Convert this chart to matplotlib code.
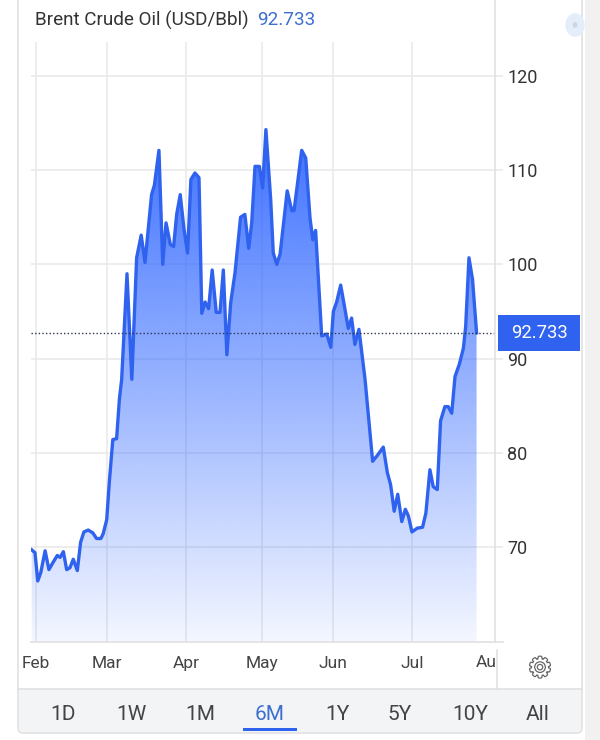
import matplotlib
matplotlib.use('Agg')
import matplotlib.pyplot as plt
import numpy as np
from matplotlib.patches import Rectangle, FancyBboxPatch, Circle
from matplotlib.lines import Line2D
from matplotlib.transforms import Bbox, TransformedBbox, blended_transform_factory
import matplotlib.patheffects as pe

plt.rcParams['font.family'] = ['Roboto', 'DejaVu Sans']

# ---------------- data (day offset from Feb 1, price USD/Bbl) ----------------
days = [-1.7, -0.4, 0.7, 1.9, 3.6, 5.1, 6.8, 8.4, 9.5, 10.8, 12.1, 13.4, 14.7, 16.3,
        17.6, 18.9, 20.6, 22.4, 23.9, 25.6, 26.5, 27.9, 28.9, 30.3, 31.8, 32.9, 33.8,
        35.9, 37.8, 39.7, 41.5, 43.0, 45.6, 46.7, 48.5, 50.0, 51.3, 53.0, 54.3, 55.5,
        56.9, 58.4, 59.8, 61.1, 62.7, 64.3, 65.4, 66.7, 68.1, 69.5, 71.1, 72.6, 73.9,
        75.3, 76.8, 78.5, 80.7, 82.4, 83.9, 85.1, 86.4, 88.1, 89.4, 90.7, 92.6, 93.6,
        95.0, 96.3, 99.1, 100.9, 101.8, 103.5, 104.8, 106.4, 108.1, 109.2, 110.3,
        112.7, 114.7, 116.3, 117.3, 118.6, 120.2, 121.9, 123.2, 124.5, 125.8, 127.4,
        129.8, 132.8, 134.6, 137.0, 138.6, 139.9, 141.3, 142.7, 144.3, 145.7, 146.9,
        148.3, 150.4, 152.5, 153.8, 155.4, 156.7, 158.3, 159.6, 161.3, 162.6, 164.0,
        165.3, 167.0, 168.6, 169.5, 170.8, 172.2, 173.8]
prices = [69.7, 69.4, 66.4, 67.3, 69.6, 67.6, 68.4, 69.1, 68.9, 69.5, 67.6, 67.8, 68.7, 67.5,
          70.5, 71.6, 71.8, 71.5, 70.9, 70.9, 71.4, 72.9, 76.8, 81.4, 81.5, 85.7, 87.8,
          99.0, 87.8, 100.7, 103.1, 100.2, 107.4, 108.4, 112.1, 100.0, 104.4, 102.1, 101.9, 105.3,
          107.4, 103.7, 101.2, 109.0, 109.7, 109.2, 94.8, 96.0, 95.3, 99.4, 94.9, 94.9, 99.4,
          90.4, 95.9, 99.1, 105.0, 105.3, 101.7, 104.4, 110.4, 110.4, 108.1, 114.3, 106.8, 101.2,
          100.0, 101.1, 107.8, 105.7, 105.7, 109.3, 112.1, 111.3, 104.9, 102.6, 103.6,
          92.4, 92.6, 91.2, 95.0, 96.0, 97.8, 95.2, 93.2, 94.3, 91.5, 93.1,
          87.8, 79.1, 79.7, 80.6, 77.9, 76.6, 73.8, 75.6, 72.7, 74.0, 73.3,
          71.6, 72.0, 72.1, 73.6, 78.2, 76.4, 76.1, 83.4, 84.9, 84.9, 84.2,
          88.1, 89.4, 91.1, 93.4, 100.7, 98.4, 92.733]

month_labels = ['Feb', 'Mar', 'Apr', 'May', 'Jun', 'Jul', 'Aug']
month_pos = [0.0, 28.0, 59.2, 89.2, 117.2, 148.3, 179.6]
y_ticks = [70, 80, 90, 100, 110, 120]
last_price = 92.733
title = 'Brent Crude Oil (USD/Bbl)'
ranges = ['1D', '1W', '1M', '6M', '1Y', '5Y', '10Y', 'All']
active_range = '6M'

# ---------------- figure ----------------
W, H = 600, 740
fig = plt.figure(figsize=(6, 7.4), dpi=100)
fig.patch.set_facecolor('white')

def fx(px):
    return px / W

def fy(py):
    return 1 - py / H

GRID = '#e8e8e8'
BORDER = '#e0e0e0'
BLUE = '#2f62ee'

# page background at right + card
fig.patches.append(Rectangle((fx(585), 0), 1 - fx(585), 1, transform=fig.transFigure,
                             facecolor='#f1f1f1', edgecolor='none', zorder=-10))
fig.patches.append(FancyBboxPatch((fx(18), fy(733)), fx(582) - fx(18), fy(-30) - fy(733),
                                  boxstyle='round,pad=0,rounding_size=0.008',
                                  transform=fig.transFigure, facecolor='white',
                                  edgecolor=BORDER, lw=1.2, zorder=-9))
# range bar background
fig.patches.append(FancyBboxPatch((fx(19), fy(732)), fx(581) - fx(19), fy(689) - fy(732),
                                  boxstyle='round,pad=0,rounding_size=0.006',
                                  transform=fig.transFigure, facecolor='#f3f4f6',
                                  edgecolor='none', zorder=-8))
fig.lines.append(Line2D([fx(18), fx(582)], [fy(689), fy(689)], transform=fig.transFigure,
                        color=BORDER, lw=1.2, zorder=-7))

# ---------------- axes ----------------
ax = fig.add_axes([fx(31), fy(641.7), fx(495) - fx(31), (641.7 - 42) / H])
ax.set_zorder(1)
ax.set_facecolor('none')
xmin, xmax = -1.97, 181.07
ymin, ymax = 59.95, 123.6
ax.set_xlim(xmin, xmax)
ax.set_ylim(ymin, ymax)
for s in ax.spines.values():
    s.set_visible(False)

ax.set_xticks(month_pos[:6], month_labels[:6])
ax.yaxis.tick_right()
ax.set_yticks(y_ticks, [str(v) for v in y_ticks])
ax.grid(True, color=GRID, lw=1.1)
ax.set_axisbelow(True)
ax.tick_params(axis='x', length=0, pad=10, labelsize=12.5, labelcolor='#444444')
ax.tick_params(axis='y', length=5.8, width=1.1, color=GRID, pad=3, labelsize=13,
               labelcolor='#333333')

# gradient fill under the line
rgb = np.array([41, 98, 255]) / 255.0
vals = np.linspace(ymin, ymax, 400)
alpha = np.clip(0.07 + (vals - 61) * (0.8 / 51), 0, 1)
img = np.zeros((400, 1, 4))
img[:, 0, :3] = rgb
img[:, 0, 3] = alpha
im = ax.imshow(img, extent=[xmin, xmax, ymin, ymax], origin='lower', aspect='auto',
               interpolation='bilinear', zorder=2)
poly = ax.fill_between(days, prices, ymin, facecolor='none', edgecolor='none')
im.set_clip_path(poly.get_paths()[0], transform=ax.transData)

ax.plot(days, prices, color=BLUE, lw=2.4, zorder=4, solid_joinstyle='round')
ax.axhline(last_price, color='#2a3550', lw=1.0, ls=(0, (1, 1.6)), zorder=5)

# last price tag
trans = blended_transform_factory(fig.transFigure, ax.transData)
box_h = 36 / ((641.7 - 42) / (ymax - ymin))
ax.add_patch(Rectangle((fx(498), last_price - box_h / 2), fx(580) - fx(498), box_h,
                       transform=trans, facecolor=BLUE, edgecolor='none', clip_on=False,
                       zorder=10))
ax.text(fx(539), last_price, f'{last_price:.3f}', transform=trans, ha='center',
        va='center', color='white', fontsize=13.3, clip_on=False, zorder=11)

# clipped Aug label
tl = ax.text(month_pos[6], fy(662), month_labels[6],
             transform=blended_transform_factory(ax.transData, fig.transFigure),
             ha='center', va='center', fontsize=12.5, color='#444444')
tl.set_clip_path(None)
tl.set_clip_box(TransformedBbox(Bbox([[0, 0], [fx(496), 1]]), fig.transFigure))
tl.set_clip_on(True)

# frame lines
fig.lines.append(Line2D([fx(31), fx(503)], [fy(641.7), fy(641.7)], transform=fig.transFigure,
                        color=BORDER, lw=1.2, zorder=3))
fig.lines.append(Line2D([fx(495), fx(495)], [fy(0), fy(641.7)], transform=fig.transFigure,
                        color=BORDER, lw=1.2, zorder=3))
fig.lines.append(Line2D([fx(497), fx(497)], [fy(650), fy(689)], transform=fig.transFigure,
                        color=BORDER, lw=1.2, zorder=3))

# title
t1 = fig.text(fx(35), fy(20), title, ha='left', va='center', fontsize=13.6,
              color='#333333')
fig.canvas.draw()
bb = t1.get_window_extent()
fig.text((bb.x1 + 9) / W, fy(20), f'{last_price:.3f}', ha='left', va='center', fontsize=13.6,
         color='#3d6fd0')

# top-right faint icon
fig.patches.append(Circle((fx(575), fy(25)), 0.016, transform=fig.transFigure,
                          facecolor='#e4eefb', edgecolor='none', zorder=2))
fig.patches.append(Circle((fx(575), fy(25)), 0.004, transform=fig.transFigure,
                          facecolor='#cfd6df', edgecolor='none', zorder=3))

# gear
fig.text(fx(540), fy(669), '\u2699', ha='center', va='center', fontsize=20,
         family='DejaVu Sans', color='white',
         path_effects=[pe.Stroke(linewidth=1.8, foreground='#666666'), pe.Normal()])

# range buttons
btn_x = [63, 131, 200, 270, 337, 400, 470, 538]
for lab, bx in zip(ranges, btn_x):
    active = lab == active_range
    fig.text(fx(bx), fy(714), lab, ha='center', va='center', fontsize=15,
             color='#3d6fd0' if active else '#444444')
    if active:
        fig.patches.append(Rectangle((fx(bx - 27), fy(730.5)), fx(54), 3 / H,
                                     transform=fig.transFigure, facecolor=BLUE,
                                     edgecolor='none', zorder=3))

fig.savefig('out.png', dpi=100)
